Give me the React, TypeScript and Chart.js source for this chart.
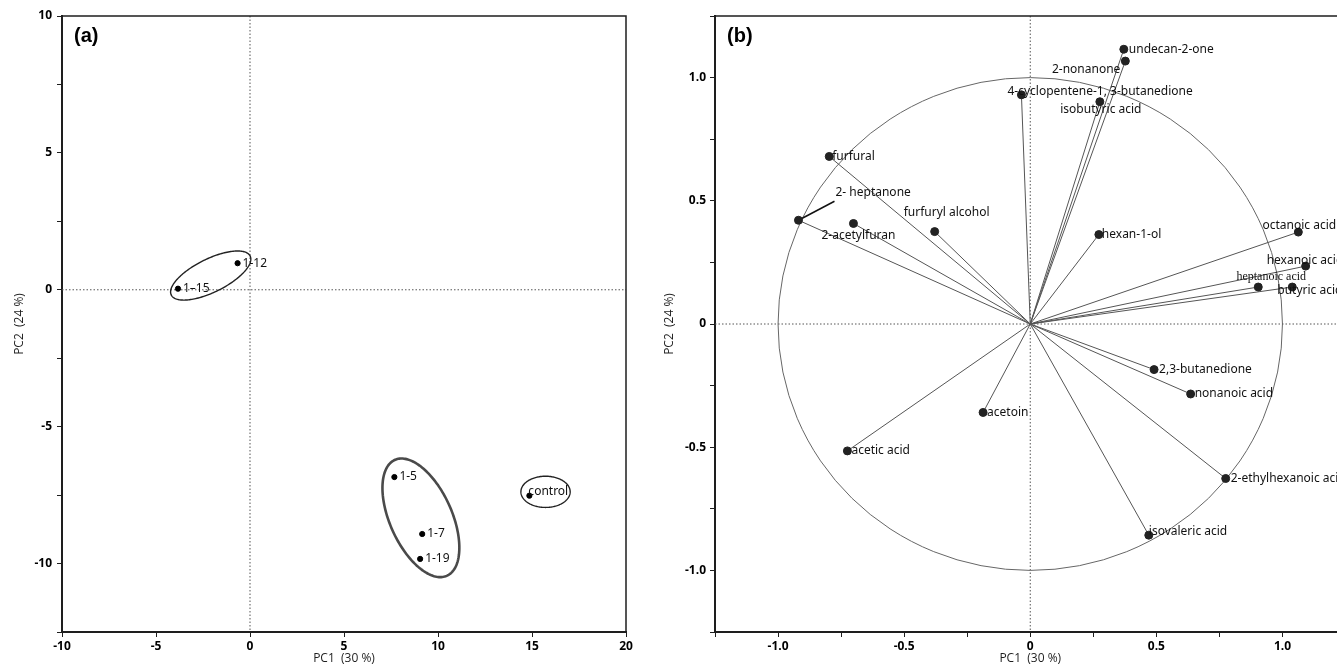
import React, { useEffect, useRef } from "react";
import { Chart, registerables } from "chart.js";
Chart.register(...registerables);

// ---------- Panel (a): PCA scores ----------
const scoreLabels = ["1-12", "1–15", "1-5", "1-7", "1-19", "control"];
const scorePC1 = [-0.66, -3.83, 7.68, 9.16, 9.05, 14.86];
const scorePC2 = [0.97, 0.04, -6.84, -8.92, -9.83, -7.52];

// confidence ellipses: centre + two conjugate semi-axis vectors (data units)
const ellipseCX = [-2.09, 9.09, 15.72];
const ellipseCY = [0.52, -8.33, -7.38];
const ellipseU = [[2.134, 0.6], [2.045, -1.09], [1.31, 0]];
const ellipseV = [[0, 0.666], [0, 1.872], [0, 0.57]];

const scoreXTicks = [-10, -5, 0, 5, 10, 15, 20];
const scoreYTicks = [-10, -5, 0, 5, 10];

// ---------- Panel (b): loadings ----------
const loadingLabels = [
  "undecan-2-one",
  "2-nonanone",
  "4-cyclopentene-1, 3-butanedione",
  "isobutyric acid",
  "furfural",
  "2- heptanone",
  "2-acetylfuran",
  "furfuryl alcohol",
  "hexan-1-ol",
  "octanoic acid",
  "hexanoic acid",
  "heptanoic acid",
  "butyric acid",
  "2,3-butanedione",
  "nonanoic acid",
  "acetoin",
  "acetic acid",
  "2-ethylhexanoic acid",
  "isovaleric acid",
];
const loadingPC1 = [0.371, 0.377, -0.035, 0.276, -0.797, -0.919, -0.701, -0.379, 0.272, 1.063, 1.092, 0.904, 1.039, 0.491, 0.636, -0.187, -0.725, 0.775, 0.47];
const loadingPC2 = [1.115, 1.067, 0.93, 0.902, 0.68, 0.421, 0.408, 0.375, 0.363, 0.373, 0.235, 0.15, 0.15, -0.185, -0.284, -0.359, -0.515, -0.627, -0.857];

// label placement (pixel offsets from the point, alignment) – style, not data
const loadingLabelPlace: [number, number, CanvasTextAlign][] = [
  [5, 0, "left"],
  [-5, 8, "right"],
  [-14, -3, "left"],
  [1, 8, "center"],
  [3, 0, "left"],
  [37, -28, "left"],
  [5, 12, "center"],
  [12, -19, "center"],
  [3, 0, "left"],
  [1, -7, "center"],
  [-39, -6, "left"],
  [13, -10, "center"],
  [-15, 4, "left"],
  [5, 0, "left"],
  [4, 0, "left"],
  [4, 0, "left"],
  [4, 0, "left"],
  [5, 0, "left"],
  [0, -4, "left"],
];

const LABEL_FONT = '12px "Noto Sans", "Open Sans", sans-serif';
const TICK_FONT = { family: '"Open Sans", "Noto Sans", sans-serif', size: 12, weight: "bold" as const };
const TITLE_FONT = { family: '"Open Sans", "Noto Sans", sans-serif', size: 12, weight: "normal" as const };
const INK = "#1e1e1e";

function zeroLines(chart: any) {
  const { ctx, chartArea: a, scales } = chart;
  const x0 = scales.x.getPixelForValue(0);
  const y0 = scales.y.getPixelForValue(0);
  ctx.save();
  ctx.strokeStyle = "#555";
  ctx.lineWidth = 1;
  ctx.setLineDash([1.5, 2]);
  ctx.beginPath();
  ctx.moveTo(x0, a.top);
  ctx.lineTo(x0, a.bottom);
  ctx.moveTo(a.left, y0);
  ctx.lineTo(a.right, y0);
  ctx.stroke();
  ctx.restore();
}

function frame(chart: any) {
  const { ctx, chartArea: a } = chart;
  ctx.save();
  ctx.strokeStyle = INK;
  ctx.lineWidth = 1.5;
  ctx.beginPath();
  ctx.moveTo(a.left, a.top);
  ctx.lineTo(a.right, a.top);
  ctx.lineTo(a.right, a.bottom);
  ctx.stroke();
  ctx.restore();
}

function panelTag(chart: any, text: string) {
  const { ctx, chartArea: a } = chart;
  ctx.save();
  ctx.fillStyle = "#000";
  ctx.font = 'bold 20px "Liberation Sans", Arial, sans-serif';
  ctx.textBaseline = "middle";
  ctx.textAlign = "left";
  ctx.fillText(text, a.left + 12, a.top + 20);
  ctx.restore();
}

const scorePlugin = {
  id: "scoreDeco",
  beforeDatasetsDraw(chart: any) {
    zeroLines(chart);
    const { ctx, scales } = chart;
    ctx.save();
    ellipseCX.forEach((cx, i) => {
      const cy = ellipseCY[i];
      ctx.beginPath();
      for (let k = 0; k <= 180; k++) {
        const t = (k / 180) * Math.PI * 2;
        const vx = cx + ellipseU[i][0] * Math.cos(t) + ellipseV[i][0] * Math.sin(t);
        const vy = cy + ellipseU[i][1] * Math.cos(t) + ellipseV[i][1] * Math.sin(t);
        const px = scales.x.getPixelForValue(vx);
        const py = scales.y.getPixelForValue(vy);
        if (k === 0) ctx.moveTo(px, py);
        else ctx.lineTo(px, py);
      }
      ctx.closePath();
      ctx.lineWidth = i === 1 ? 2.6 : 1.4;
      ctx.strokeStyle = i === 1 ? "#4a4a4a" : "#222";
      ctx.stroke();
    });
    ctx.restore();
  },
  afterDatasetsDraw(chart: any) {
    const { ctx, scales } = chart;
    ctx.save();
    ctx.font = LABEL_FONT;
    ctx.fillStyle = "#111";
    ctx.textBaseline = "middle";
    scoreLabels.forEach((lab, i) => {
      const px = scales.x.getPixelForValue(scorePC1[i]);
      const py = scales.y.getPixelForValue(scorePC2[i]);
      const isCtrl = lab === "control";
      ctx.textAlign = "left";
      ctx.fillText(lab, px + (isCtrl ? -1 : 5), py + (isCtrl ? -4 : 0));
    });
    ctx.restore();
    frame(chart);
    panelTag(chart, "(a)");
  },
};

const loadingPlugin = {
  id: "loadingDeco",
  beforeDatasetsDraw(chart: any) {
    zeroLines(chart);
    const { ctx, scales } = chart;
    const x0 = scales.x.getPixelForValue(0);
    const y0 = scales.y.getPixelForValue(0);
    ctx.save();
    // unit correlation circle
    const rx = scales.x.getPixelForValue(1) - x0;
    const ry = y0 - scales.y.getPixelForValue(1);
    ctx.strokeStyle = "#666";
    ctx.lineWidth = 1;
    ctx.beginPath();
    ctx.ellipse(x0, y0, rx, ry, 0, 0, Math.PI * 2);
    ctx.stroke();
    // vectors
    ctx.strokeStyle = "#555";
    ctx.lineWidth = 1;
    ctx.beginPath();
    loadingPC1.forEach((v, i) => {
      ctx.moveTo(x0, y0);
      ctx.lineTo(scales.x.getPixelForValue(v), scales.y.getPixelForValue(loadingPC2[i]));
    });
    ctx.stroke();
    // leader line for 2- heptanone
    const hi = loadingLabels.indexOf("2- heptanone");
    const hx = scales.x.getPixelForValue(loadingPC1[hi]);
    const hy = scales.y.getPixelForValue(loadingPC2[hi]);
    ctx.strokeStyle = "#111";
    ctx.lineWidth = 1.5;
    ctx.beginPath();
    ctx.moveTo(hx, hy);
    ctx.lineTo(hx + 36, hy - 19);
    ctx.stroke();
    ctx.restore();
  },
  afterDatasetsDraw(chart: any) {
    const { ctx, scales } = chart;
    ctx.save();
    ctx.fillStyle = "#111";
    ctx.textBaseline = "middle";
    loadingLabels.forEach((lab, i) => {
      const px = scales.x.getPixelForValue(loadingPC1[i]);
      const py = scales.y.getPixelForValue(loadingPC2[i]);
      const [dx, dy, align] = loadingLabelPlace[i];
      ctx.font = lab === "heptanoic acid" ? '12px "Liberation Serif", "DejaVu Serif", serif' : LABEL_FONT;
      ctx.textAlign = align;
      ctx.fillText(lab, px + dx, py + dy);
    });
    ctx.restore();
    frame(chart);
    panelTag(chart, "(b)");
  },
};

function axisCommon(title: string) {
  return {
    type: "linear" as const,
    title: { display: true, text: title, color: INK, font: TITLE_FONT, padding: { top: 2, bottom: 3 } },
    border: { display: true, color: INK, width: 2 },
    grid: { display: true, drawOnChartArea: false, drawTicks: true, tickLength: 5, color: INK, lineWidth: 1 },
  };
}

function ScoreChart() {
  const ref = useRef<HTMLCanvasElement>(null);
  useEffect(() => {
    const chart = new Chart(ref.current!, {
      type: "scatter",
      data: {
        datasets: [
          {
            data: scorePC1.map((x, i) => ({ x, y: scorePC2[i] })),
            backgroundColor: "#000",
            borderColor: "#000",
            pointRadius: 2.6,
            pointHoverRadius: 2.6,
          },
        ],
      },
      options: {
        animation: false,
        responsive: false,
        devicePixelRatio: 1,
        layout: { padding: { left: 10, top: 16, right: 34, bottom: 0 } },
        plugins: { legend: { display: false }, tooltip: { enabled: false } },
        scales: {
          x: {
            ...axisCommon("PC1  (30 %)"),
            position: "bottom",
            min: scoreXTicks[0],
            max: scoreXTicks[scoreXTicks.length - 1],
            afterFit: (s: any) => { s.height = 37; },
            ticks: { stepSize: 5, autoSkip: false, maxRotation: 0, color: "#000", font: TICK_FONT, padding: 2,
              callback: (v: any) => (scoreXTicks.includes(Number(v)) ? String(v) : "") },
          },
          y: {
            ...axisCommon("PC2  (24 %)"),
            position: "left",
            min: -12.5,
            max: scoreYTicks[scoreYTicks.length - 1],
            afterFit: (s: any) => { s.width = 52; },
            ticks: { stepSize: 2.5, autoSkip: false, color: "#000", font: TICK_FONT, padding: 5,
              callback: (v: any) => (scoreYTicks.includes(Number(v)) ? String(v) : "") },
          },
        },
      },
      plugins: [scorePlugin],
    });
    return () => chart.destroy();
  }, []);
  return <canvas ref={ref} width={660} height={669} style={{ position: "absolute", left: 0, top: 0, width: 660, height: 669 }} />;
}

function LoadingChart() {
  const ref = useRef<HTMLCanvasElement>(null);
  useEffect(() => {
    const chart = new Chart(ref.current!, {
      type: "scatter",
      data: {
        datasets: [
          {
            data: loadingPC1.map((x, i) => ({ x, y: loadingPC2[i] })),
            backgroundColor: "#222",
            borderColor: "#222",
            pointRadius: 4,
            pointHoverRadius: 4,
          },
        ],
      },
      options: {
        animation: false,
        responsive: false,
        devicePixelRatio: 1,
        layout: { padding: { left: 0, top: 16, right: 64.5, bottom: 0 } },
        plugins: { legend: { display: false }, tooltip: { enabled: false } },
        scales: {
          x: {
            ...axisCommon("PC1  (30 %)"),
            position: "bottom",
            min: -1.25,
            max: 1.25,
            afterFit: (s: any) => { s.height = 37; },
            ticks: { stepSize: 0.25, autoSkip: false, maxRotation: 0, color: "#000", font: TICK_FONT, padding: 2,
              callback: (v: any) => { const r = Math.round(Number(v) * 4); return r % 2 !== 0 ? "" : r === 0 ? "0" : Number(v).toFixed(1); } },
          },
          y: {
            ...axisCommon("PC2  (24 %)"),
            position: "left",
            min: -1.25,
            max: 1.25,
            afterFit: (s: any) => { s.width = 55; },
            ticks: { stepSize: 0.25, autoSkip: false, color: "#000", font: TICK_FONT, padding: 4,
              callback: (v: any) => { const r = Math.round(Number(v) * 4); return r % 2 !== 0 ? "" : r === 0 ? "0" : Number(v).toFixed(1); } },
          },
        },
      },
      plugins: [loadingPlugin],
    });
    return () => chart.destroy();
  }, []);
  return <canvas ref={ref} width={750} height={669} style={{ position: "absolute", left: 660, top: 0, width: 750, height: 669 }} />;
}

export default function App() {
  return (
    <div style={{ position: "fixed", left: 0, top: 0, width: 1337, height: 669, overflow: "hidden", background: "#fff" }}>
      <ScoreChart />
      <LoadingChart />
    </div>
  );
}
